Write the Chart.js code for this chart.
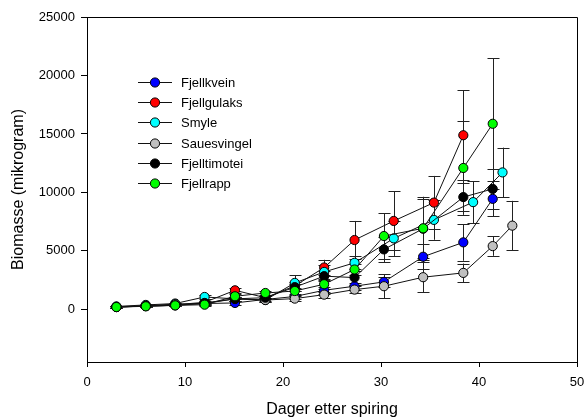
<!DOCTYPE html>
<html lang="no">
<head>
  <meta charset="UTF-8" />
  <title>Biomasse</title>
  <script src="https://cdn.jsdelivr.net/npm/chart.js"></script>
  <style>
    html, body { margin: 0; padding: 0; background: #fff; }
    #wrap { width: 588px; height: 419px; }
  </style>
</head>
<body>
  <div id="wrap"><canvas id="grafico" width="588" height="419"></canvas></div>

  <script>
    // dager etter spiring (hver art er litt forskjøvet i x)
    const dagerA = [3, 6, 9, 12, 15.1, 18.2, 21.2, 24.2, 27.3, 30.3, 34.3, 38.4, 41.4];
    const dagerGulaks = [3, 6, 9, 12, 15.1, 18.2, 21.2, 24.2, 27.3, 31.3, 35.4, 38.4];
    const dagerSmyle = [3, 6, 9, 12, 15.1, 18.2, 21.2, 24.2, 27.3, 31.3, 35.4, 39.4, 42.4];
    const dagerSaue = [3, 6, 9, 12, 15.1, 18.2, 21.2, 24.2, 27.3, 30.3, 34.3, 38.4, 41.4, 43.4];

    // biomasse (mikrogram) og standardfeil
    const fjellkvein = [200, 280, 350, 500, 550, 850, 1100, 1630, 1980, 2350, 4500, 5730, 9450];
    const fjellkveinSe = [60, 60, 80, 120, 150, 150, 250, 300, 300, 400, 1050, 1570, 1500];
    const fjellgulaks = [220, 300, 400, 600, 1630, 1000, 2000, 3580, 5930, 7560, 9130, 14890];
    const fjellgulaksSe = [60, 60, 80, 120, 200, 150, 300, 660, 1630, 2520, 2280, 3840];
    const smyle = [250, 380, 500, 1060, 900, 800, 2260, 3200, 3980, 6070, 7650, 9170, 11710];
    const smyleSe = [60, 60, 80, 150, 150, 150, 660, 600, 570, 1500, 1700, 1800, 2120];
    const sauesvingel = [200, 300, 450, 500, 900, 800, 920, 1260, 1690, 1980, 2750, 3120, 5410, 7160];
    const sauesvingelSe = [60, 60, 80, 120, 150, 150, 200, 250, 300, 1030, 1300, 800, 830, 2120];
    const fjelltimotei = [200, 280, 350, 550, 900, 1000, 1900, 2840, 2720, 5130, 6900, 9600, 10300];
    const fjelltimoteiSe = [60, 60, 80, 120, 150, 150, 300, 400, 600, 1100, 2500, 1190, 1700];
    const fjellrapp = [200, 260, 340, 400, 1120, 1400, 1570, 2150, 3410, 6270, 6930, 12090, 15870];
    const fjellrappSe = [60, 60, 80, 120, 200, 200, 300, 400, 500, 1950, 2700, 4010, 5610];

    const yTicks = [0, 5000, 10000, 15000, 20000, 25000];

    const FONT = '"Liberation Sans", Arial, sans-serif';

    function serie(navn, dager, verdier, se, farge, rekkefolge) {
      return {
        label: navn,
        data: dager.map((d, i) => ({ x: d, y: verdier[i], se: se[i] })),
        borderColor: '#111',
        borderWidth: 1,
        backgroundColor: farge,
        pointBackgroundColor: farge,
        pointBorderColor: '#000',
        pointBorderWidth: 1,
        pointRadius: 4.6,
        tension: 0,
        order: rekkefolge
      };
    }

    const datasets = [
      serie('Fjellkvein', dagerA, fjellkvein, fjellkveinSe, '#0000ff', 5),
      serie('Fjellgulaks', dagerGulaks, fjellgulaks, fjellgulaksSe, '#ff0000', 4),
      serie('Smyle', dagerSmyle, smyle, smyleSe, '#00ffff', 3),
      serie('Sauesvingel', dagerSaue, sauesvingel, sauesvingelSe, '#c0c0c0', 2),
      serie('Fjelltimotei', dagerA, fjelltimotei, fjelltimoteiSe, '#000000', 1),
      serie('Fjellrapp', dagerA, fjellrapp, fjellrappSe, '#00ff00', 0)
    ];

    // feilstolper tegnes bak punktene
    const feilstolper = {
      id: 'feilstolper',
      beforeDatasetsDraw(chart) {
        const ctx = chart.ctx;
        const xs = chart.scales.x, ys = chart.scales.y;
        ctx.save();
        ctx.strokeStyle = '#222';
        ctx.lineWidth = 1;
        chart.data.datasets.forEach(ds => {
          ds.data.forEach(p => {
            const px = Math.round(xs.getPixelForValue(p.x)) + 0.5;
            const top = ys.getPixelForValue(p.y + p.se);
            const bot = ys.getPixelForValue(p.y - p.se);
            ctx.beginPath();
            ctx.moveTo(px, top); ctx.lineTo(px, bot);
            ctx.moveTo(px - 6, Math.round(top) + 0.5); ctx.lineTo(px + 6, Math.round(top) + 0.5);
            ctx.moveTo(px - 6, Math.round(bot) + 0.5); ctx.lineTo(px + 6, Math.round(bot) + 0.5);
            ctx.stroke();
          });
        });
        ctx.restore();
      }
    };

    // ramme rundt plottet + forklaring inne i plottet
    const rammeOgForklaring = {
      id: 'rammeOgForklaring',
      afterDraw(chart) {
        const ctx = chart.ctx;
        const a = chart.chartArea;
        ctx.save();
        ctx.strokeStyle = '#000';
        ctx.lineWidth = 1;
        ctx.beginPath();
        ctx.moveTo(Math.round(a.left) + 0.5, Math.round(a.top) + 0.5);
        ctx.lineTo(Math.round(a.right) + 0.5, Math.round(a.top) + 0.5);
        ctx.lineTo(Math.round(a.right) + 0.5, Math.round(a.bottom) + 0.5);
        ctx.stroke();

        ctx.font = '13px ' + FONT;
        ctx.textBaseline = 'middle';
        ctx.textAlign = 'left';
        chart.data.datasets.forEach((ds, i) => {
          const y = Math.round(82 + i * 20.2) + 0.5;
          ctx.strokeStyle = '#111';
          ctx.beginPath();
          ctx.moveTo(138, y); ctx.lineTo(172, y);
          ctx.stroke();
          ctx.beginPath();
          ctx.arc(155, y, 4.6, 0, Math.PI * 2);
          ctx.fillStyle = ds.pointBackgroundColor;
          ctx.fill();
          ctx.strokeStyle = '#000';
          ctx.stroke();
          ctx.fillStyle = '#000';
          ctx.fillText(ds.label, 181, y + 1);
        });
        ctx.restore();
      }
    };

    const config = {
      type: 'line',
      data: { datasets: datasets },
      options: {
        responsive: false,
        animation: false,
        layout: { padding: { top: 17, right: 11, left: 0, bottom: 0 } },
        plugins: {
          legend: { display: false },
          tooltip: { enabled: false }
        },
        scales: {
          x: {
            type: 'linear',
            min: 0,
            max: 50,
            afterFit(s) { s.height = 57; s.paddingLeft = 0; s.paddingRight = 0; },
            ticks: { stepSize: 10, color: '#000', font: { family: FONT, size: 13 }, padding: 8 },
            grid: { drawOnChartArea: false, drawTicks: true, tickLength: 5, color: '#000' },
            border: { display: true, color: '#000', width: 1 },
            title: {
              display: true,
              text: 'Dager etter spiring',
              color: '#000',
              font: { family: FONT, size: 16 },
              padding: { top: 0, bottom: 0 }
            }
          },
          y: {
            min: -4500,
            max: 25000,
            afterFit(s) { s.width = 87; s.paddingTop = 0; s.paddingBottom = 0; },
            afterBuildTicks(s) { s.ticks = yTicks.map(v => ({ value: v })); },
            ticks: {
              color: '#000',
              font: { family: FONT, size: 13 },
              padding: 6,
              callback: v => String(v)
            },
            grid: { drawOnChartArea: false, drawTicks: true, tickLength: 6, color: '#000' },
            border: { display: true, color: '#000', width: 1 },
            title: {
              display: true,
              text: 'Biomasse (mikrogram)',
              color: '#000',
              font: { family: FONT, size: 16 },
              padding: { top: 9, bottom: 0 }
            }
          }
        }
      },
      plugins: [feilstolper, rammeOgForklaring]
    };

    new Chart(document.getElementById('grafico'), config);
  </script>
</body>
</html>
